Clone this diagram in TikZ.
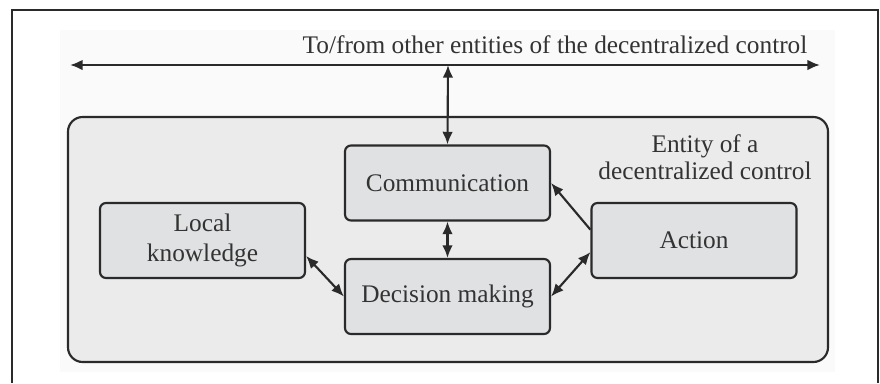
\documentclass[tikz,border=0pt]{standalone}
\usepackage{fontspec}
\setmainfont{Liberation Serif}
\usetikzlibrary{arrows.meta,calc}
\definecolor{outerfill}{HTML}{EBEBEB}
\definecolor{boxfill}{HTML}{E0E1E3}
\definecolor{edge}{HTML}{2A2A2A}
\definecolor{txt}{HTML}{333333}
\definecolor{bgfaint}{HTML}{FAFAFA}
\tikzset{
  blk/.style={draw=edge, line width=1.6pt, fill=boxfill, rounded corners=4.5pt,
    minimum width=153.75pt, minimum height=56.25pt, inner sep=0pt,
    font=\fontsize{19}{22.5}\selectfont, text=txt, align=center},
  conn/.style={draw=edge, line width=1.6pt, {Latex[length=9.5pt,width=8pt]}-{Latex[length=9.5pt,width=8pt]}},
  oneway/.style={draw=edge, line width=1.6pt, -{Latex[length=9.5pt,width=8pt]}},
  lbl/.style={font=\fontsize{19}{20.5}\selectfont, text=txt, align=center, inner sep=0pt}
}
\begin{document}
\begin{tikzpicture}[x=0.75pt,y=-0.75pt]
\useasboundingbox (0,0) rectangle (880,383);
\fill[bgfaint] (60,30) rectangle (835,372);
\draw[edge, line width=1.4pt] (12,383) -- (12,10) -- (878,10) -- (878,383);
% entity box
\node[draw=edge, line width=1.6pt, fill=outerfill, rounded corners=11pt,
  minimum width=570pt, minimum height=183.75pt, inner sep=0pt] (ent) at (448,239.5) {};
% top line
\coordinate (hl) at (70,65);
\coordinate (hr) at (820,65);
\coordinate (top) at (448,65);
\node[lbl] (toplbl) at (555,45) {To/from other entities of the decentralized control};
\node[lbl] (entlbl) at (705,157) {Entity of a\\decentralized control};
% boxes
\node[blk] (comm) at (447.5,183) {Communication};
\node[blk] (dm) at (447.5,296.5) {Decision making};
\node[blk] (act) at (694,240.5) {Action};
\node[blk] (lk) at (202.5,240.5) {Local\\knowledge};
% connectors
\draw[conn] (hl) -- (hr);
\draw[conn] (top) -- (comm.north);
\draw[conn] (comm.south) -- (dm.north);
\draw[conn] ($(lk.east)!0.4!(lk.south east)$) -- (dm.west);
\draw[conn] (dm.east) -- ($(act.west)!0.3!(act.south west)$);
\draw[oneway] ($(act.west)!0.28!(act.north west)$) -- (comm.east);
\end{tikzpicture}
\end{document}
